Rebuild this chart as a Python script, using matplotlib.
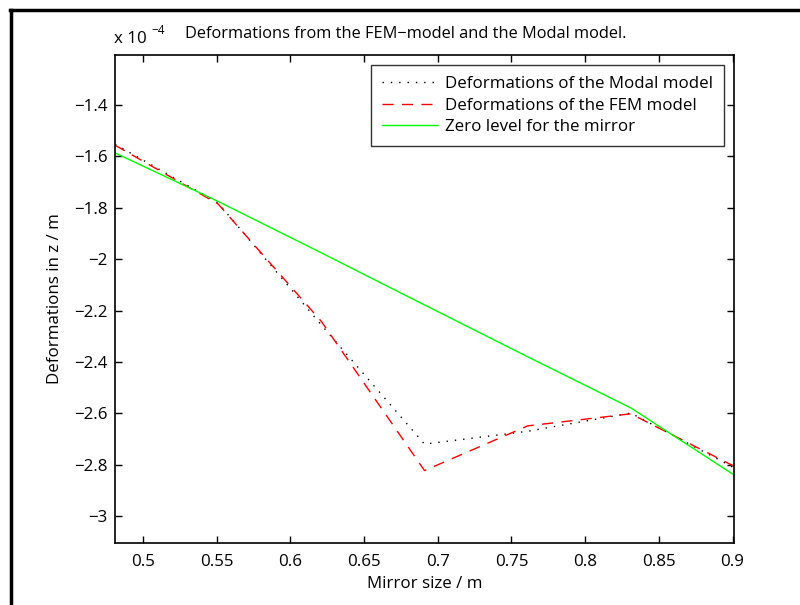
import numpy as np
import matplotlib
matplotlib.use('Agg')
from matplotlib import pyplot as plt
from matplotlib.lines import Line2D
from matplotlib.ticker import FuncFormatter


# mirror positions (m) and deformations in units of 1e-4 m
mirror_size = [0.481, 0.551, 0.621, 0.691, 0.761, 0.831, 0.901]
def_modal = [-1.552, -1.781, -2.256, -2.720, -2.670, -2.599, -2.812]
def_fem = [-1.556, -1.785, -2.242, -2.823, -2.649, -2.602, -2.806]
zero_level = [-1.586, -1.775, -1.975, -2.178, -2.380, -2.579, -2.840]

x_ticks = [0.5, 0.55, 0.6, 0.65, 0.7, 0.75, 0.8, 0.85, 0.9]
y_ticks = [-3.0, -2.8, -2.6, -2.4, -2.2, -2.0, -1.8, -1.6, -1.4]

plt.rcParams['font.family'] = ['Open Sans', 'DejaVu Sans']
fs = 12.2

fig = plt.figure(figsize=(8, 6.05), dpi=100)
ax = fig.add_axes([0.14375, 0.1025, 0.77375, 0.8065])

ax.plot(mirror_size, def_modal, color='k', lw=1.0, dashes=(1, 5),
        label='Deformations of the Modal model')
ax.plot(mirror_size, def_fem, color='r', lw=1.0, dashes=(8, 6),
        label='Deformations of the FEM model')
ax.plot(mirror_size, zero_level, color=(0, 1, 0), lw=1.0,
        label='Zero level for the mirror')

ax.set_xlim(0.481, 0.901)
ax.set_ylim(-3.105, -1.205)
ax.set_xticks(x_ticks)
ax.set_yticks(y_ticks)

fmt = FuncFormatter(lambda v, pos: ('%g' % round(v, 3)).replace('-', '\u2212'))
ax.xaxis.set_major_formatter(fmt)
ax.yaxis.set_major_formatter(fmt)
ax.tick_params(direction='in', top=True, right=True, length=5, width=1,
               labelsize=fs)
ax.tick_params(axis='x', pad=8)
ax.tick_params(axis='y', pad=5.5)
for s in ax.spines.values():
    s.set_linewidth(1.2)

ax.set_xlabel('Mirror size / m', fontsize=fs, labelpad=4)
ax.set_ylabel('Deformations in z / m', fontsize=fs, labelpad=8)
fig.text(406 / 800, 1 - 34 / 605,
         'Deformations from the FEM\u2212model and the Modal model.',
         fontsize=11.8, ha='center', va='center')

# exponent for the y axis
fig.text(114 / 800, 1 - 43 / 605, 'x 10', fontsize=fs, ha='left', va='baseline')
fig.text(151 / 800, 1 - 34 / 605, '\u22124', fontsize=8.5, ha='left', va='baseline')

leg = ax.legend(loc='upper right', fontsize=fs, frameon=True, fancybox=False,
                handlelength=3.3, handletextpad=0.4, borderpad=0.65,
                labelspacing=0.32, borderaxespad=0.6)
leg.get_frame().set_edgecolor('k')
leg.get_frame().set_linewidth(1.0)

# outer frame of the figure
fig.add_artist(Line2D([11 / 800, 11 / 800], [0, 1 - 10 / 605], color='k', lw=2.5))
fig.add_artist(Line2D([10 / 800, 1], [1 - 10 / 605, 1 - 10 / 605], color='k', lw=2.5))

fig.savefig('out.png', dpi=100)
